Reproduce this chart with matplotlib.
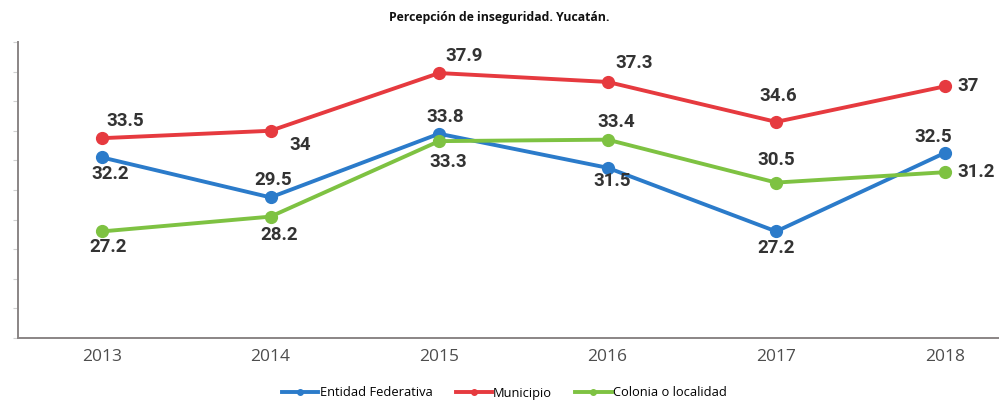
import matplotlib
matplotlib.use("Agg")
import matplotlib.pyplot as plt
from matplotlib.lines import Line2D

# Data
years = ["2013", "2014", "2015", "2016", "2017", "2018"]
entidad = [32.2, 29.5, 33.8, 31.5, 27.2, 32.5]
municipio = [33.5, 34.0, 37.9, 37.3, 34.6, 37.0]
colonia = [27.2, 28.2, 33.3, 33.4, 30.5, 31.2]
series_names = ["Entidad Federativa", "Municipio", "Colonia o localidad"]

colors = {"Entidad Federativa": "#2b7bca",
          "Municipio": "#e63a3f",
          "Colonia o localidad": "#7ec242"}

# label offsets in pixels (dx, dy) and horizontal alignment
label_pos = {
    "Entidad Federativa": [(8, -17, "center"), (3, 17, "center"), (6, 17, "center"),
                           (5, -13, "center"), (0, -17, "center"), (-12, 16, "center")],
    "Municipio": [(23, 17, "center"), (30, -14, "center"), (25, 17, "center"),
                  (27, 19, "center"), (2, 26, "center"), (13, 0, "left")],
    "Colonia o localidad": [(6, -16, "center"), (9, -18, "center"), (9, -21, "center"),
                            (9, 18, "center"), (0, 23, "center"), (13, 0, "left")],
}

fig = plt.figure(figsize=(9.99, 4.04), dpi=100)
ax = fig.add_axes([0.0177, 0.1634, 1.0123, 0.7327])

x = list(range(len(years)))
data = {"Entidad Federativa": entidad, "Municipio": municipio,
        "Colonia o localidad": colonia}

for name in series_names:
    vals = data[name]
    ax.plot(x, vals, color=colors[name], lw=2.8, marker="o", ms=8.5,
            solid_capstyle="round", zorder=3)
    for xi, v, (dx, dy, ha) in zip(x, vals, label_pos[name]):
        ax.annotate(f"{v:g}", (xi, v), xytext=(dx, dy), textcoords="offset pixels",
                    ha=ha, va="center", fontsize=13.5, fontweight="bold",
                    family="Roboto", color="#333333", zorder=4)

ax.set_xlim(-0.5, len(years) - 0.5)
ax.set_ylim(20, 40)
ax.set_xticks(x)
ax.set_xticklabels(years, family="Open Sans", fontsize=12.5, color="#4d4d4d")
ax.set_yticks(range(20, 41, 2))
ax.set_yticklabels([])
ax.tick_params(axis="x", length=0, pad=8)
ax.tick_params(axis="y", length=3.5, width=0.8, color="#d0d0d0", direction="out")

for side in ("top", "right"):
    ax.spines[side].set_visible(False)
for side in ("left", "bottom"):
    ax.spines[side].set_color("#8a8585")
    ax.spines[side].set_linewidth(1.4)

fig.text(0.5, 1 - 17 / 404, "Percepción de inseguridad. Yucatán.",
         ha="center", va="center", fontsize=8.8, fontweight="bold",
         family="Open Sans", color="#111111")

handles = [Line2D([], [], color=colors[n], lw=2.8, marker="o", ms=4) for n in series_names]
fig.legend(handles, series_names, loc="center", bbox_to_anchor=(0.505, 1 - 393 / 404),
           ncol=3, frameon=False, handlelength=2.8, handletextpad=0.1,
           columnspacing=1.8, prop={"family": "Open Sans", "size": 9.3})

fig.savefig("out.png", dpi=100, facecolor="white")
